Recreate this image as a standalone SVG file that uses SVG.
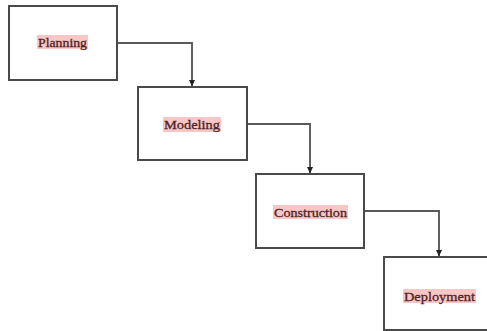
<svg xmlns="http://www.w3.org/2000/svg" width="487" height="331" viewBox="0 0 487 331">
<style>
.box{fill:#fff;stroke:#4a4a4a;stroke-width:2}
.hl{fill:#f9c6c6}
.lbl{font-family:"Liberation Serif","Times New Roman",serif;font-size:13px;fill:#4e2424;stroke:#4e2424;stroke-width:0.3;text-anchor:middle}
.conn{fill:none;stroke:#595959;stroke-width:1.9}
</style>
<defs>
<marker id="arr" markerWidth="7" markerHeight="6" refX="6" refY="3" orient="auto" markerUnits="userSpaceOnUse">
<path d="M0,0 L6.5,3 L0,6 Z" fill="#222"/>
</marker>
</defs>
<rect width="487" height="331" fill="#fff"/>
<g id="connectors">
<path class="conn" d="M117,43 H192 V86" marker-end="url(#arr)"/>
<path class="conn" d="M247,124 H310 V173" marker-end="url(#arr)"/>
<path class="conn" d="M364,211 H439 V256" marker-end="url(#arr)"/>
</g>
<g id="planning">
<rect class="box" x="9" y="6" width="108" height="74"/>
<rect class="hl" x="37" y="35" width="51" height="14"/>
<text class="lbl" x="62.5" y="46.5" textLength="49" lengthAdjust="spacingAndGlyphs">Planning</text>
</g>
<g id="modeling">
<rect class="box" x="138" y="87" width="109" height="73"/>
<rect class="hl" x="163" y="117" width="58" height="15"/>
<text class="lbl" x="192" y="128.5" textLength="56" lengthAdjust="spacingAndGlyphs">Modeling</text>
</g>
<g id="construction">
<rect class="box" x="256" y="174" width="108" height="74"/>
<rect class="hl" x="273" y="205" width="75" height="14"/>
<text class="lbl" x="310.5" y="216.5" textLength="73" lengthAdjust="spacingAndGlyphs">Construction</text>
</g>
<g id="deployment">
<rect class="box" x="384" y="257" width="110" height="73"/>
<rect class="hl" x="403" y="289" width="73" height="14"/>
<text class="lbl" x="439.5" y="300.5" textLength="71" lengthAdjust="spacingAndGlyphs">Deployment</text>
</g>
</svg>
